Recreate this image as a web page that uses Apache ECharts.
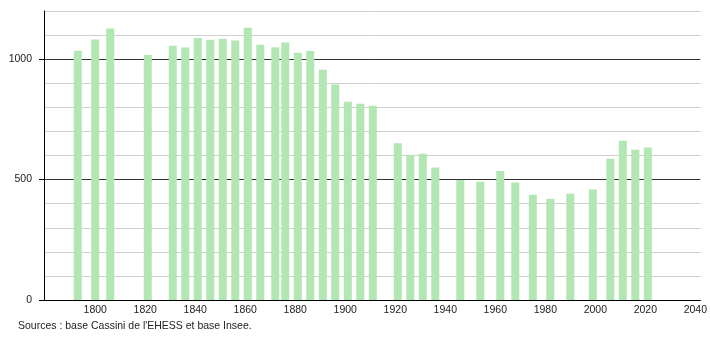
<!DOCTYPE html>
<html>
<head>
<meta charset="utf-8">
<script src="https://cdn.jsdelivr.net/npm/echarts@6/dist/echarts.min.js"></script>
<style>html,body{margin:0;padding:0;background:#fff}#c{width:710px;height:340px}</style>
</head>
<body>
<div id="c"></div>
<script>
const years = [1793,1800,1806,1821,1831,1836,1841,1846,1851,1856,1861,1866,1872,1876,1881,1886,1891,1896,1901,1906,1911,1921,1926,1931,1936,1946,1954,1962,1968,1975,1982,1990,1999,2006,2011,2016,2021];
const population = [1035,1082,1127,1017,1056,1048,1088,1081,1085,1077,1130,1060,1049,1069,1027,1034,956,895,823,815,807,651,603,607,550,498,491,536,488,437,420,441,459,586,661,624,633];
const xTickLabels = [1800,1820,1840,1860,1880,1900,1920,1940,1960,1980,2000,2020,2040];
const yTickLabels = [0,500,1000];
const sourceText = "Sources : base Cassini de l'EHESS et base Insee.";

const chart = echarts.init(document.getElementById('c'), null, {renderer:'canvas'});
chart.setOption({
  animation:false,
  backgroundColor:'#fff',
  textStyle:{fontFamily:'Liberation Sans, Arial, sans-serif'},
  grid:{left:44,right:9,top:11,bottom:40,containLabel:false},
  xAxis:{
    type:'value', min:1779.5, max:2042,
    axisLine:{show:true,onZero:false,lineStyle:{color:'#000',width:1}},
    axisTick:{show:false},
    splitLine:{show:false},
    axisLabel:{customValues:xTickLabels,formatter:v=>String(v),color:'#222',fontSize:10.5,margin:5}
  },
  yAxis:[{
    type:'value', min:0, max:1200, interval:100,
    axisLine:{show:false},
    axisTick:{show:false},
    axisLabel:{show:false},
    splitLine:{show:true,lineStyle:{color:'#cfcfcf',width:1}}
  },{
    type:'value', min:0, max:1200, position:'left',
    axisLine:{show:true,onZero:false,lineStyle:{color:'#000',width:1}},
    axisTick:{show:true,customValues:yTickLabels,length:5,lineStyle:{color:'#000'}},
    axisLabel:{customValues:yTickLabels,formatter:v=>String(v),color:'#222',fontSize:10.5,margin:12},
    splitLine:{show:true,lineStyle:{color:'#333',width:1}}
  }],
  series:[{
    type:'bar',
    barWidth:8,
    yAxisIndex:0,
    itemStyle:{color:'#b2e6b2'},
    data:years.map((y,i)=>[y,population[i]])
  }],
  graphic:[{
    type:'text', left:18, top:321,
    style:{text:sourceText,fill:'#222',font:'10.5px Liberation Sans, Arial, sans-serif'}
  }]
});
</script>
</body>
</html>
